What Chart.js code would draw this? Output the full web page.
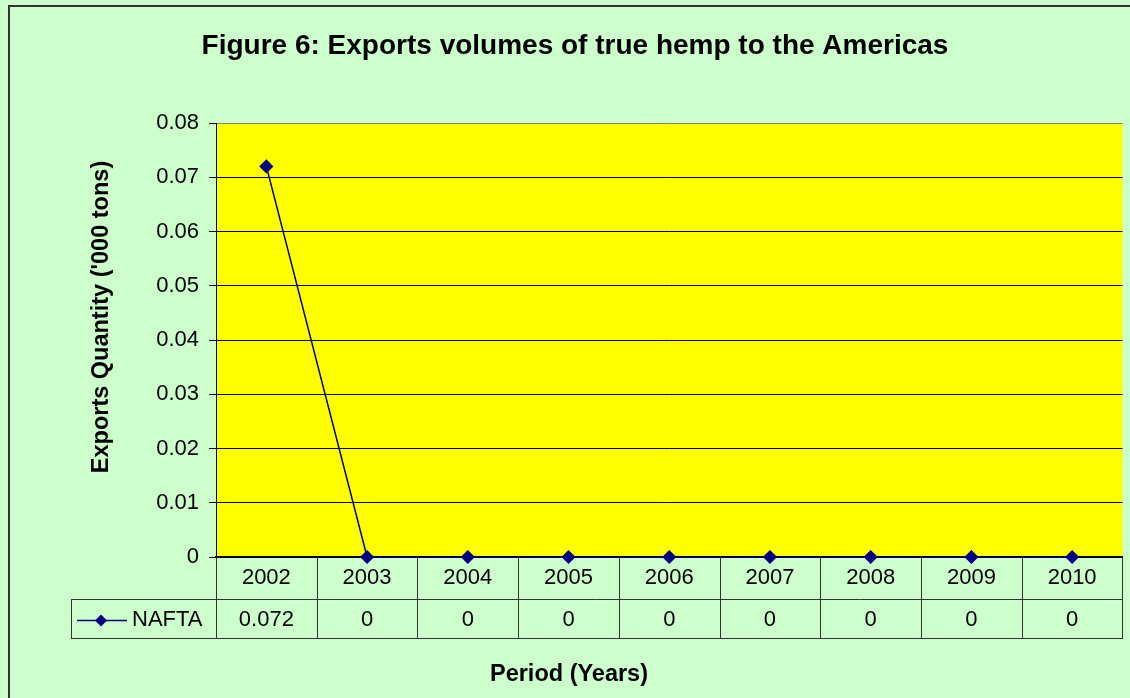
<!DOCTYPE html>
<html>
<head>
<meta charset="utf-8">
<script src="https://cdn.jsdelivr.net/npm/chart.js@4"></script>
<style>
  body { margin: 0; background: #ccffcc; }
  canvas { display: block; }
</style>
</head>
<body>
<canvas id="hempChart" width="1130" height="698"></canvas>
<script>
const years = ["2002", "2003", "2004", "2005", "2006", "2007", "2008", "2009", "2010"];
const naftaValues = [0.072, 0, 0, 0, 0, 0, 0, 0, 0];
const naftaLabels = ["0.072", "0", "0", "0", "0", "0", "0", "0", "0"];
const seriesName = "NAFTA";
const chartTitle = "Figure 6: Exports volumes of true hemp to the Americas";
const xTitle = "Period (Years)";
const yTitle = "Exports Quantity ('000 tons)";

const FONT = "'Liberation Sans', Arial, sans-serif";
const NAVY = "#000080";

// green page, outer frame, yellow plot area, chart and axis titles
const backgroundPlugin = {
  id: "backgroundPlugin",
  beforeDraw(chart) {
    const ctx = chart.ctx;
    const area = chart.chartArea;
    ctx.save();
    ctx.fillStyle = "#ccffcc";
    ctx.fillRect(0, 0, chart.width, chart.height);
    ctx.strokeStyle = "#333";
    ctx.lineWidth = 2;
    ctx.strokeRect(9, 6, chart.width + 10, chart.height + 10);
    ctx.fillStyle = "#ffff00";
    ctx.fillRect(area.left, area.top, area.right - area.left, area.bottom - area.top);

    ctx.fillStyle = "#000";
    ctx.textAlign = "center";
    ctx.textBaseline = "middle";
    ctx.font = "bold 28px " + FONT;
    ctx.fillText(chartTitle, 575, 46);
    ctx.font = "bold 23.5px " + FONT;
    ctx.fillText(xTitle, 569, 675);
    ctx.translate(102, 317);
    ctx.rotate(-Math.PI / 2);
    ctx.fillText(yTitle, 0, 0);
    ctx.restore();
  },
};

// data table under the x axis: cell lines, legend key and values
const dataTablePlugin = {
  id: "dataTablePlugin",
  afterDraw(chart) {
    const ctx = chart.ctx;
    const x = chart.scales.x;
    const area = chart.chartArea;
    const row1Top = area.bottom;
    const row2Top = area.bottom + 42;
    const row2Bottom = area.bottom + 81;
    const tableLeft = 71;
    const half = (x.getPixelForValue(1) - x.getPixelForValue(0)) / 2;

    ctx.save();
    ctx.strokeStyle = "#333";
    ctx.lineWidth = 1;
    ctx.beginPath();
    years.forEach((y, i) => {
      const bx = Math.round(x.getPixelForValue(i) - half) + 0.5;
      ctx.moveTo(bx, row1Top);
      ctx.lineTo(bx, row2Bottom);
    });
    const rx = Math.round(area.right) - 0.5;
    ctx.moveTo(rx, row1Top);
    ctx.lineTo(rx, row2Bottom);
    ctx.moveTo(tableLeft + 0.5, row2Top);
    ctx.lineTo(tableLeft + 0.5, row2Bottom);
    ctx.moveTo(tableLeft, row2Top + 0.5);
    ctx.lineTo(rx, row2Top + 0.5);
    ctx.moveTo(tableLeft, row2Bottom + 0.5);
    ctx.lineTo(rx + 0.5, row2Bottom + 0.5);
    ctx.stroke();

    const midY = (row2Top + row2Bottom) / 2 + 1;
    // legend key
    ctx.strokeStyle = NAVY;
    ctx.lineWidth = 1.5;
    ctx.beginPath();
    ctx.moveTo(77, midY + 1);
    ctx.lineTo(127, midY + 1);
    ctx.stroke();
    ctx.fillStyle = NAVY;
    ctx.beginPath();
    ctx.moveTo(101, midY - 5);
    ctx.lineTo(107, midY + 1);
    ctx.lineTo(101, midY + 7);
    ctx.lineTo(95, midY + 1);
    ctx.closePath();
    ctx.fill();

    ctx.fillStyle = "#000";
    ctx.font = "22px " + FONT;
    ctx.textBaseline = "middle";
    ctx.textAlign = "left";
    ctx.fillText(seriesName, 132, midY);
    ctx.textAlign = "center";
    naftaLabels.forEach((v, i) => {
      ctx.fillText(v, x.getPixelForValue(i), midY);
    });
    ctx.restore();
  },
};

new Chart(document.querySelector("#hempChart"), {
  type: "line",
  data: {
    labels: years,
    datasets: [
      {
        label: seriesName,
        data: naftaValues,
        borderColor: NAVY,
        backgroundColor: NAVY,
        borderWidth: 1.5,
        pointStyle: "rectRot",
        pointRadius: 6,
        pointHoverRadius: 6,
        tension: 0,
        clip: false,
      },
    ],
  },
  options: {
    responsive: false,
    animation: false,
    layout: { padding: { top: 123, left: 0, right: 7, bottom: 0 } },
    plugins: {
      legend: { display: false },
      title: { display: false },
      tooltip: { enabled: false },
    },
    scales: {
      x: {
        offset: true,
        grid: { display: false, drawOnChartArea: false },
        border: { color: "#000", width: 2 },
        ticks: { color: "#000", font: { family: FONT, size: 22 }, padding: 0 },
        afterFit(scale) {
          scale.height = 141;
        },
      },
      y: {
        min: 0,
        max: 0.08,
        ticks: {
          stepSize: 0.01,
          color: "#000",
          font: { family: FONT, size: 22 },
          padding: 10,
        },
        grid: {
          color: (c) => (c.index === 8 ? "#808080" : "#000"),
          lineWidth: 1,
          tickLength: 7,
          tickColor: "#000",
        },
        border: { color: "#000", width: 1 },
        afterFit(scale) {
          scale.width = 216;
        },
      },
    },
  },
  plugins: [backgroundPlugin, dataTablePlugin],
});
</script>
</body>
</html>
